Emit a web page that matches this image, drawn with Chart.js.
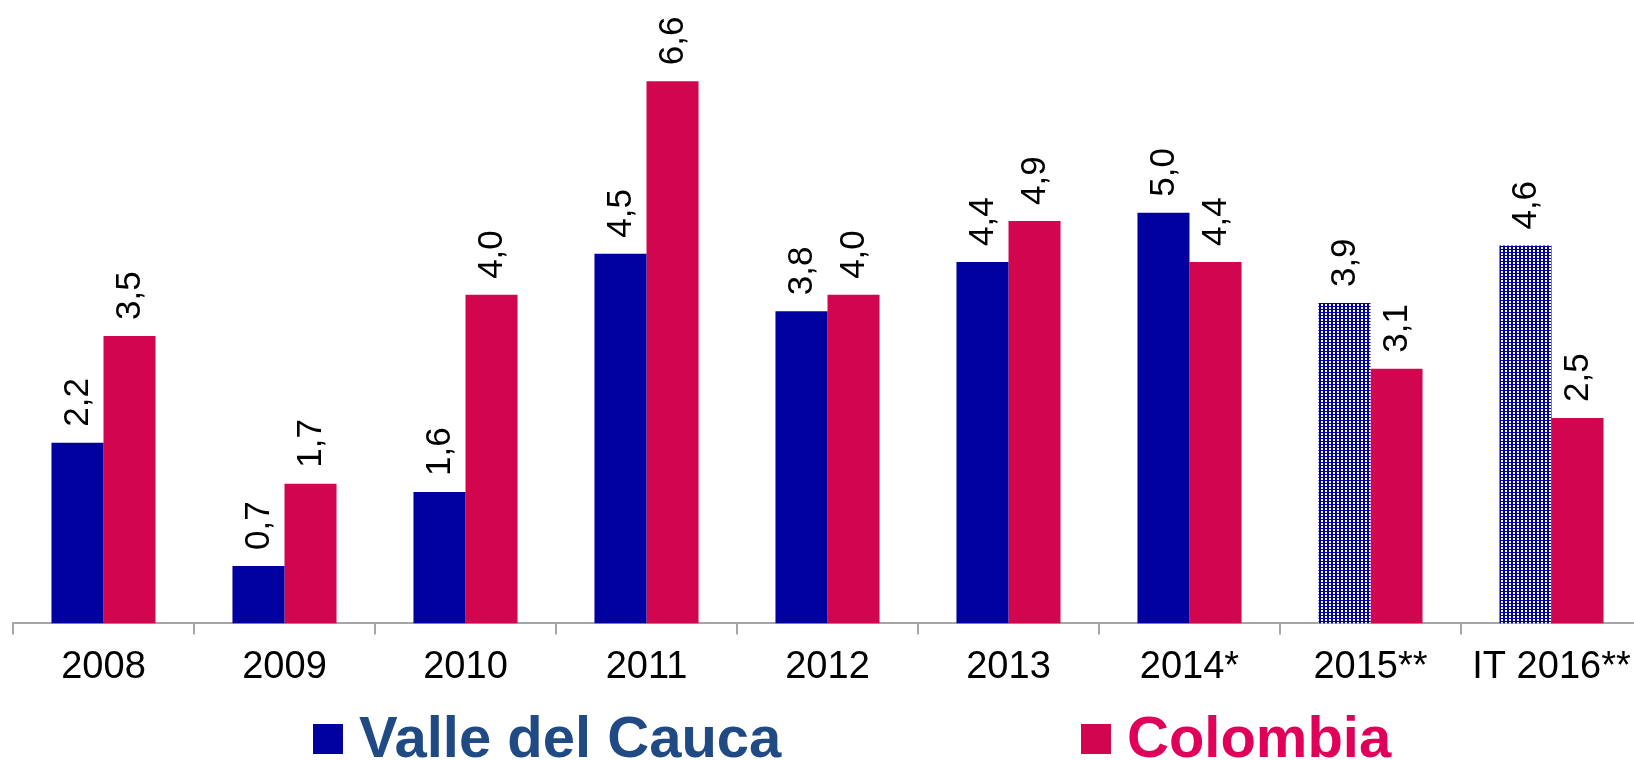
<!DOCTYPE html>
<html>
<head>
<meta charset="utf-8">
<script src="https://cdn.jsdelivr.net/npm/chart.js@4/dist/chart.umd.min.js"></script>
<style>
  html, body { margin: 0; padding: 0; overflow: hidden; background: #ffffff; }
  #wrap { width: 1642px; height: 760px; position: relative; }
</style>
</head>
<body>
<div id="wrap"><canvas id="c"></canvas></div>
<script>
const categories = ["2008", "2009", "2010", "2011", "2012", "2013", "2014*", "2015**", "IT 2016**"];
const valleValues = [2.2, 0.7, 1.6, 4.5, 3.8, 4.4, 5.0, 3.9, 4.6];
const colombiaValues = [3.5, 1.7, 4.0, 6.6, 4.0, 4.9, 4.4, 3.1, 2.5];
const valleProjected = [false, false, false, false, false, false, false, true, true];
const seriesNames = ["Valle del Cauca", "Colombia"];

const BLUE = "#0000A0";
const RED = "#D2064F";
const LEGEND_TEXT = ["#1F4A84", "#E0005A"];

function makePattern() {
  const p = document.createElement("canvas");
  p.width = 4; p.height = 3;
  const g = p.getContext("2d");
  g.fillStyle = BLUE; g.fillRect(0, 0, 4, 3);
  g.fillStyle = "#ffffff"; g.fillRect(1, 1, 2, 2);
  return document.getElementById("c").getContext("2d").createPattern(p, "repeat");
}
const pattern = makePattern();

const fmt = v => v.toFixed(1).replace(".", ",");

const valueLabels = {
  id: "valueLabels",
  afterDatasetsDraw(chart) {
    const ctx = chart.ctx;
    ctx.save();
    ctx.font = "35px 'Liberation Sans', Arial, sans-serif";
    ctx.fillStyle = "#000000";
    ctx.textAlign = "left";
    ctx.textBaseline = "middle";
    chart.data.datasets.forEach((ds, di) => {
      const meta = chart.getDatasetMeta(di);
      meta.data.forEach((bar, i) => {
        ctx.save();
        ctx.translate(bar.x + 1, bar.y - 16);
        ctx.rotate(-Math.PI / 2);
        ctx.fillText(fmt(ds.data[i]), 0, 0);
        ctx.restore();
      });
    });
    ctx.restore();
  }
};

const customLegend = {
  id: "customLegend",
  afterDraw(chart) {
    const ctx = chart.ctx;
    const xs = [313, 1081];
    ctx.save();
    ctx.font = "bold 58px 'Liberation Sans', Arial, sans-serif";
    ctx.textBaseline = "alphabetic";
    ctx.textAlign = "left";
    chart.data.datasets.forEach((ds, di) => {
      ctx.fillStyle = di === 0 ? BLUE : RED;
      ctx.fillRect(xs[di], 724, 30, 30);
      ctx.fillStyle = LEGEND_TEXT[di];
      ctx.fillText(ds.label, xs[di] + 46, 757);
    });
    ctx.restore();
  }
};

new Chart(document.getElementById("c"), {
  type: "bar",
  data: {
    labels: categories,
    datasets: [
      {
        label: seriesNames[0],
        data: valleValues,
        backgroundColor: valleProjected.map(p => p ? pattern : BLUE),
        borderWidth: 0
      },
      {
        label: seriesNames[1],
        data: colombiaValues,
        backgroundColor: RED,
        borderWidth: 0
      }
    ]
  },
  options: {
    responsive: true,
    maintainAspectRatio: false,
    animation: false,
    layout: { padding: { left: 13, right: 0, top: 0, bottom: 60 } },
    plugins: { legend: { display: false }, tooltip: { enabled: false } },
    datasets: { bar: { categoryPercentage: 0.575, barPercentage: 1.0 } },
    scales: {
      x: {
        grid: { display: true, drawOnChartArea: false, drawTicks: true, tickLength: 11, color: "#A6A6A6", lineWidth: 2, offset: true },
        border: { display: true, color: "#A6A6A6", width: 2 },
        ticks: { color: "#000000", font: { family: "'Liberation Sans', Arial, sans-serif", size: 38 }, padding: 10, maxRotation: 0, autoSkip: false }
      },
      y: {
        display: false,
        min: 0,
        max: 7.59
      }
    }
  },
  plugins: [valueLabels, customLegend]
});
</script>
</body>
</html>
